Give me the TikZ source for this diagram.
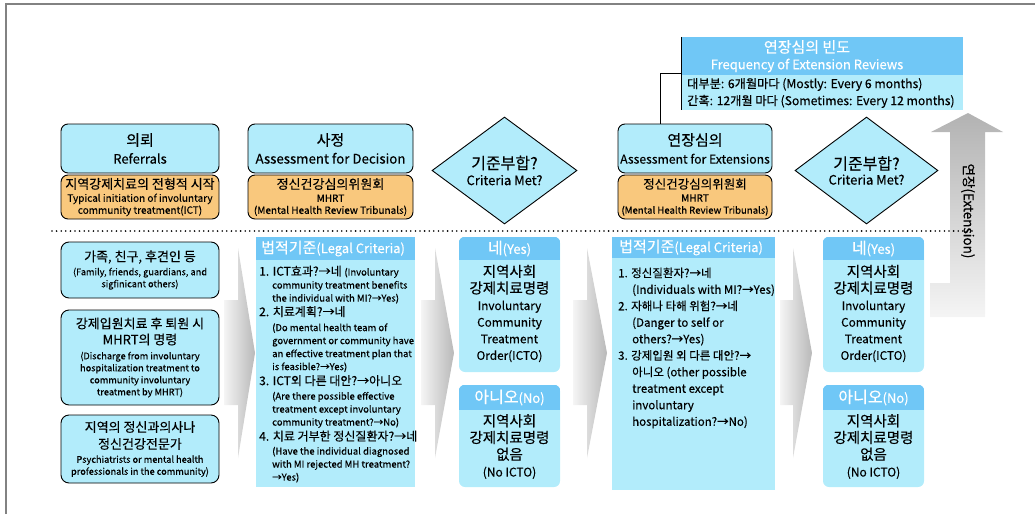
\documentclass[tikz,border=0pt]{standalone}
\usepackage{fontspec}
\setmainfont{Noto Sans CJK KR}[UprightFeatures={FakeBold=0.25}]
\usetikzlibrary{shapes.geometric,calc}

\definecolor{cyanfill}{RGB}{178,236,251}
\definecolor{headblue}{RGB}{112,199,246}
\definecolor{orangefill}{RGB}{249,200,125}
\definecolor{framegray}{RGB}{130,130,130}

% font sizes
\newcommand\fsHead{\fontsize{15}{18}\selectfont}
\newcommand\fsOrK{\fontsize{13}{14}\selectfont}
\newcommand\fsOrE{\fontsize{10}{12.5}\selectfont}
\newcommand\fsTiny{\fontsize{9.5}{13}\selectfont}
\newcommand\fsLeftE{\fontsize{9.2}{12}\selectfont}

% grey flow chevron: body left x, head base x, tip x
\newcommand\flowchev[3]{%
  \shade[left color=gray!8, right color=gray!55]
    (#1,300) -- (#2,300) -- (#2,248) -- (#3,353) -- (#2,458) -- (#2,405) -- (#1,405) -- cycle;}

\begin{document}
\begin{tikzpicture}[x=1pt,y=-1pt,
  cyanbox/.style={draw=black, line width=0.9pt, rounded corners=7pt, fill=cyanfill, align=center, inner sep=0pt, font=\fontsize{10}{12}\selectfont},
  orangebox/.style={draw=black, line width=0.9pt, rounded corners=7pt, fill=orangefill, align=center, inner sep=0pt, font=\fontsize{10}{12}\selectfont},
  critbox/.style={diamond, draw=black, line width=0.9pt, fill=cyanfill, align=center, inner sep=0pt, font=\fontsize{10}{12}\selectfont},
  plainbox/.style={fill=cyanfill, inner sep=0pt},
  resultbox/.style={fill=cyanfill, rounded corners=6pt, inner sep=0pt},
  whitetext/.style={text=white, inner sep=0pt, align=center, font=\fontsize{10}{12}\selectfont},
  bodytext/.style={inner sep=0pt, align=center}]
\useasboundingbox (0,0) rectangle (1035,514);

% page frame
\draw[framegray, line width=1.2pt] (6,514) -- (6,4) -- (1035,4);

% ---- upper row: stages ----
\node[cyanbox, minimum width=158, minimum height=49] (ref) at (140,148.5)
  {{\fsHead 의뢰}\\[6pt]{\fontsize{13}{14}\selectfont Referrals}};
\node[orangebox, minimum width=158, minimum height=44] (refo) at (140,197)
  {{\fsOrK 지역강제치료의 전형적 시작}\\[1pt]{\fsOrE Typical initiation of involuntary}\\{\fsOrE community treatment(ICT)}};

\node[cyanbox, minimum width=165, minimum height=49] (asd) at (330.5,148.5)
  {{\fsHead 사정}\\[6pt]{\fontsize{13.3}{14}\selectfont Assessment for Decision}};
\node[orangebox, minimum width=165, minimum height=44] (asdo) at (330.5,197)
  {{\fontsize{13}{14}\selectfont 정신건강심의위원회}\\[1pt]{\fsOrE MHRT}\\{\fsOrE (Mental Health Review Tribunals)}};

\node[critbox, minimum width=145, minimum height=107] (crit1) at (504.5,170.5)
  {{\fontsize{16}{18}\selectfont 기준부합?}\\[4pt]{\fontsize{13}{14}\selectfont Criteria Met?}};

\node[cyanbox, minimum width=154, minimum height=49] (ext) at (695,148.5)
  {{\fsHead 연장심의}\\[6pt]{\fontsize{12.2}{14}\selectfont Assessment for Extensions}};
\node[orangebox, minimum width=154, minimum height=44] (exto) at (695,197)
  {{\fontsize{12.5}{14}\selectfont 정신건강심의위원회}\\[1pt]{\fsOrE MHRT}\\{\fontsize{9.6}{12}\selectfont (Mental Health Review Tribunals)}};

\node[critbox, minimum width=143, minimum height=107] (crit2) at (866.5,170.5)
  {{\fontsize{16}{18}\selectfont 기준부합?}\\[3pt]{\fontsize{13}{14}\selectfont Criteria Met?}};

% frequency of extension reviews
\node[plainbox, minimum width=281, minimum height=73] (freq) at (822.5,73.5) {};
\fill[headblue] (freq.north west) rectangle ($(freq.north east)+(0,38)$);
\draw[line width=0.9pt] (freq.north west) -- (freq.south west);
\node[whitetext] (freqtitle) at (807,47) {\fontsize{15}{16}\selectfont 연장심의 빈도};
\node[whitetext] (freqsub) at (807,65.5) {\fontsize{13}{14}\selectfont Frequency of Extension Reviews};
\node[inner sep=0pt, align=left, anchor=west, font=\fontsize{12.2}{17}\selectfont] (freqtxt) at (687,93)
  {대부분: 6개월마다 (Mostly: Every 6 months)\\간혹: 12개월 마다 (Sometimes: Every 12 months)};
\draw[line width=0.9pt] ($(ext.north west)!0.279!(ext.north east)$) |- (freq.west);

% extension arrow
\shade[top color=gray!60, bottom color=gray!8]
  (930,317) -- (985,317) -- (985,132) -- (1003,132) -- (968,113) -- (931,132)
  -- (950,132) -- (950,283) -- (930,283) -- cycle;
\node[rotate=-90, inner sep=0pt, font=\fontsize{13.5}{15}\selectfont] (extlabel) at (968,211) {연장(Extension)};

% divider
\draw[line width=1.8pt, line cap=round, dash pattern=on 0pt off 4.6pt] (52,231) -- (975,231);

% ---- lower row ----
\flowchev{224}{238}{255}
\flowchev{421}{435}{454}
\flowchev{573}{587}{607}
\flowchev{780}{793}{812}

% referral sources
\node[cyanbox, rounded corners=8pt, minimum width=158, minimum height=56] (srcA) at (140,270)
  {{\fontsize{13}{15}\selectfont 가족, 친구, 후견인 등}\\[2pt]{\fsLeftE (Family, friends, guardians, and}\\{\fsLeftE sigfinicant others)}};
\node[cyanbox, rounded corners=8pt, minimum width=158, minimum height=95] (srcB) at (140,357.5)
  {{\fontsize{13}{16}\selectfont 강제입원치료 후 퇴원 시}\\[4pt]{\fontsize{13}{16}\selectfont MHRT의 명령}\\[3pt]{\fsLeftE (Discharge from involuntary}\\{\fsLeftE hospitalization treatment to}\\{\fsLeftE community involuntary}\\{\fsLeftE treatment by MHRT)}};
\node[cyanbox, rounded corners=8pt, minimum width=158, minimum height=68] (srcC) at (140,449)
  {{\fontsize{13}{17}\selectfont 지역의 정신과의사나}\\[5pt]{\fontsize{13}{16}\selectfont 정신건강전문가}\\[2pt]{\fsLeftE Psychiatrists or mental health}\\{\fsLeftE professionals in the community)}};

% legal criteria for ICT
\node[plainbox, minimum width=159, minimum height=250] (law1) at (335.5,362) {};
\fill[headblue] (law1.north west) rectangle ($(law1.north east)+(0,23)$);
\node[whitetext, anchor=west] (law1head) at (261,248.5)
  {{\fontsize{15}{16}\selectfont 법적기준}{\fontsize{13}{14}\selectfont(Legal Criteria)}};
\node[anchor=north west, inner sep=0pt, align=left, font=\fontsize{12}{13}\selectfont] (law1txt) at (259,265.5) {%
1. ICT효과?→네 {\fsTiny (Involuntary}\\
\hspace*{13pt}{\fsTiny community treatment benefits}\\
\hspace*{13pt}{\fsTiny the individual with MI?→Yes)}\\[1.5pt]
2. 치료계획?→네\\[2pt]
\hspace*{13pt}{\fsTiny (Do mental health team of}\\
\hspace*{13pt}{\fsTiny government or community have}\\
\hspace*{13pt}{\fsTiny an effective treatment plan that}\\
\hspace*{13pt}{\fsTiny is feasible?→Yes)}\\[2pt]
3. ICT외 다른 대안?→아니오\\[1.5pt]
\hspace*{13pt}{\fsTiny (Are there possible effective}\\
\hspace*{13pt}{\fsTiny treatment except involuntary}\\
\hspace*{13pt}{\fsTiny community treatment?→No)}\\[2pt]
4. 치료 거부한 정신질환자?→네\\[1pt]
\hspace*{13pt}{\fsTiny (Have the individual diagnosed}\\
\hspace*{13pt}{\fsTiny with MI rejected MH treatment?}\\
\hspace*{13pt}{\fsTiny →Yes)}};

% outcome of the first decision
\node[resultbox, minimum width=101, minimum height=135] (yes1) at (509.5,304.5) {};
\begin{scope}
  \clip[rounded corners=6pt] (yes1.north west) rectangle (yes1.south east);
  \fill[headblue] (yes1.north west) rectangle ($(yes1.north east)+(0,23)$);
\end{scope}
\node[whitetext] (yes1head) at (509.5,248.5) {{\fontsize{16}{16}\selectfont 네}{\fontsize{13}{14}\selectfont(Yes)}};
\node[bodytext, font=\fontsize{11.8}{16.6}\selectfont] (yes1txt) at (509.5,313.5)
  {{\fontsize{14.5}{16.6}\selectfont 지역사회}\\{\fontsize{14.5}{16.6}\selectfont 강제치료명령}\\Involuntary\\Community\\Treatment\\Order(ICTO)};

\node[resultbox, minimum width=101, minimum height=102] (no1) at (509.5,436) {};
\begin{scope}
  \clip[rounded corners=6pt] (no1.north west) rectangle (no1.south east);
  \fill[headblue] (no1.north west) rectangle ($(no1.north east)+(0,25)$);
\end{scope}
\node[whitetext] (no1head) at (509.5,397.5) {{\fontsize{16}{16}\selectfont 아니오}{\fontsize{13}{14}\selectfont(No)}};
\node[bodytext, font=\fontsize{14.5}{16.8}\selectfont] (no1txt) at (509.5,446.5)
  {지역사회\\강제치료명령\\없음\\{\fontsize{12}{16.8}\selectfont (No ICTO)}};

% legal criteria for extension
\node[plainbox, minimum width=163, minimum height=253] (law2) at (693.5,363.5) {};
\fill[headblue] (law2.north west) rectangle ($(law2.north east)+(0,21)$);
\node[whitetext, anchor=west] (law2head) at (619,247.5)
  {{\fontsize{15}{16}\selectfont 법적기준}{\fontsize{13}{14}\selectfont(Legal Criteria)}};
\node[anchor=north west, inner sep=0pt, align=left, font=\fontsize{11.5}{16.5}\selectfont] (law2txt) at (618,267.5) {%
1. 정신질환자?→네\\
\hspace*{14pt}(Individuals with MI?→Yes)\\
2. 자해나 타해 위험?→네\\
\hspace*{14pt}(Danger to self or\\
\hspace*{14pt}others?→Yes)\\
3. 강제입원 외 다른 대안?→\\
\hspace*{14pt}아니오 (other possible\\
\hspace*{14pt}treatment except\\
\hspace*{14pt}involuntary\\
\hspace*{14pt}hospitalization?→No)};

% outcome of the extension decision
\node[resultbox, minimum width=101, minimum height=135] (yes2) at (873.5,304.5) {};
\begin{scope}
  \clip[rounded corners=6pt] (yes2.north west) rectangle (yes2.south east);
  \fill[headblue] (yes2.north west) rectangle ($(yes2.north east)+(0,23)$);
\end{scope}
\node[whitetext] (yes2head) at (873.5,248.5) {{\fontsize{16}{16}\selectfont 네}{\fontsize{13}{14}\selectfont(Yes)}};
\node[bodytext, font=\fontsize{11.8}{16.6}\selectfont] (yes2txt) at (873.5,313.5)
  {{\fontsize{14.5}{16.6}\selectfont 지역사회}\\{\fontsize{14.5}{16.6}\selectfont 강제치료명령}\\Involuntary\\Community\\Treatment\\Order(ICTO)};

\node[resultbox, minimum width=101, minimum height=102] (no2) at (873.5,436) {};
\begin{scope}
  \clip[rounded corners=6pt] (no2.north west) rectangle (no2.south east);
  \fill[headblue] (no2.north west) rectangle ($(no2.north east)+(0,25)$);
\end{scope}
\node[whitetext] (no2head) at (873.5,397.5) {{\fontsize{16}{16}\selectfont 아니오}{\fontsize{13}{14}\selectfont(No)}};
\node[bodytext, font=\fontsize{14.5}{16.8}\selectfont] (no2txt) at (873.5,446.5)
  {지역사회\\강제치료명령\\없음\\{\fontsize{12}{16.8}\selectfont (No ICTO)}};

\end{tikzpicture}
\end{document}
